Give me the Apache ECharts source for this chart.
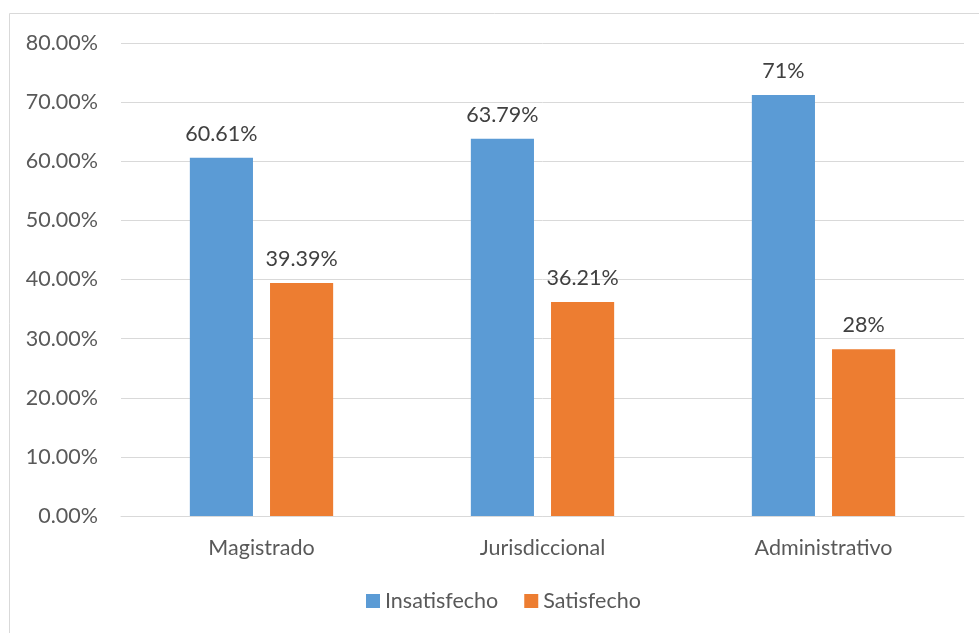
<!DOCTYPE html>
<html><head><meta charset="utf-8">
<script src="https://cdn.jsdelivr.net/npm/echarts@6/dist/echarts.min.js"></script>
<style>html,body{margin:0;padding:0;background:#fff}#c{width:979px;height:633px}</style>
</head><body><div id="c"></div>
<script>
const categories = ['Magistrado', 'Jurisdiccional', 'Administrativo'];
const insatisfecho = [60.61, 63.79, 71.2];
const satisfecho = [39.39, 36.21, 28.2];
const insatisfechoLabels = ['60.61%', '63.79%', '71%'];
const satisfechoLabels = ['39.39%', '36.21%', '28%'];
const yTicks = [0, 10, 20, 30, 40, 50, 60, 70, 80];

const font = 'Lato, "Open Sans", sans-serif';
const fs = 21.5;
const chart = echarts.init(document.getElementById('c'));
chart.setOption({
  animation: false,
  textStyle: { fontFamily: font },
  graphic: [{
    type: 'rect', silent: true,
    shape: { x: 9.5, y: 13.5, width: 1000, height: 700 },
    style: { fill: 'none', stroke: '#d9d9d9', lineWidth: 1 }
  }],
  grid: { left: 121, right: 15, top: 43, bottom: 117, containLabel: false },
  legend: {
    bottom: 16, left: 361, itemWidth: 14, itemHeight: 14, itemGap: 26,
    icon: 'rect',
    textStyle: { fontSize: fs, color: '#595959', fontFamily: font },
    data: ['Insatisfecho', 'Satisfecho']
  },
  xAxis: {
    type: 'category', data: categories,
    axisLine: { lineStyle: { color: '#d9d9d9', width: 1 } },
    axisTick: { show: false },
    axisLabel: { fontSize: fs, color: '#595959', margin: 21, fontFamily: font }
  },
  yAxis: {
    type: 'value', min: yTicks[0], max: yTicks[yTicks.length - 1], interval: 10,
    axisLine: { show: false }, axisTick: { show: false },
    splitLine: { lineStyle: { color: '#d9d9d9', width: 1 } },
    axisLabel: { fontSize: fs, color: '#595959', margin: 23, fontFamily: font,
      formatter: v => v.toFixed(2) + '%' }
  },
  series: [
    { name: 'Insatisfecho', type: 'bar', data: insatisfecho,
      itemStyle: { color: '#5b9bd5' }, barGap: '27%', barCategoryGap: '49%',
      label: { show: true, position: 'top', distance: 13, fontSize: fs, color: '#404040', fontFamily: font,
        formatter: p => insatisfechoLabels[p.dataIndex] } },
    { name: 'Satisfecho', type: 'bar', data: satisfecho,
      itemStyle: { color: '#ed7d31' }, barGap: '27%', barCategoryGap: '49%',
      label: { show: true, position: 'top', distance: 13, fontSize: fs, color: '#404040', fontFamily: font,
        formatter: p => satisfechoLabels[p.dataIndex] } }
  ]
});
</script></body></html>
